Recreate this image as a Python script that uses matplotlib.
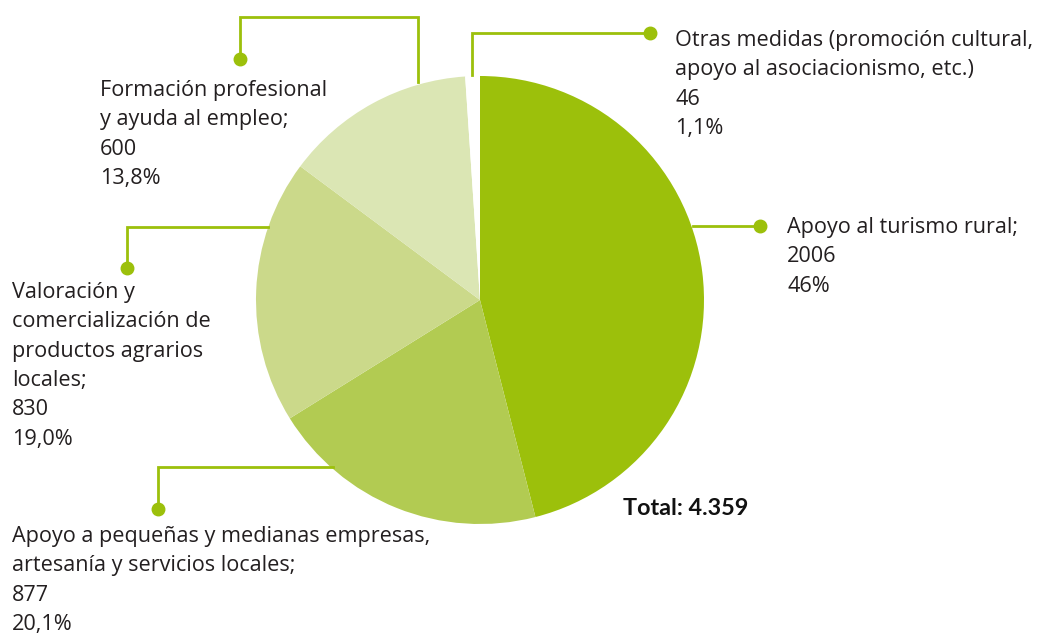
import matplotlib
matplotlib.use("Agg")
import matplotlib.pyplot as plt

# ---- data ----
categories = [
    "Apoyo al turismo rural;",
    "Apoyo a pequeñas y medianas empresas,\nartesanía y servicios locales;",
    "Valoración y\ncomercialización de\nproductos agrarios\nlocales;",
    "Formación profesional\ny ayuda al empleo;",
    "Otras medidas (promoción cultural,\napoyo al asociacionismo, etc.)",
]
values = [2006, 877, 830, 600, 46]
pct_labels = ["46%", "20,1%", "19,0%", "13,8%", "1,1%"]
total_label = "Total: 4.359"

colors = ["#9cc00b", "#b2cb52", "#cbd98a", "#dbe6b4", "#ffffff"]
leader = "#9cc00b"
txt_col = "#231f20"

W, H = 1041, 633
fig = plt.figure(figsize=(W / 100, H / 100), dpi=100)
ax = fig.add_axes([0, 0, 1, 1])

def Y(y):
    return H - y

cx, cy, r = 480, 300, 224
ax.pie(values, colors=colors, startangle=90, counterclock=False,
       center=(cx, Y(cy)), radius=r, frame=True,
       wedgeprops=dict(linewidth=0))
ax.set_xlim(0, W)
ax.set_ylim(0, H)
ax.set_aspect("equal")
ax.axis("off")

def path(pts):
    xs = [p[0] for p in pts]
    ys = [Y(p[1]) for p in pts]
    ax.plot(xs, ys, color=leader, lw=2, solid_joinstyle="miter", zorder=3)
    ax.plot(xs[-1], ys[-1], "o", color=leader, ms=9, zorder=4)

# leader lines (pie end -> dot)
path([(693, 226), (760, 226)])                       # turismo
path([(333, 467), (158, 467), (158, 509)])           # pequeñas
path([(268, 227), (127, 227), (127, 268)])           # valoración
path([(418, 82), (418, 17), (240, 17), (240, 59)])   # formación
path([(472, 75), (472, 33), (650, 33)])              # otras

FONT = "Open Sans"
FS = 15.6
STEP = 29.3

def label(x, y0, idx):
    lines = categories[idx].split("\n") + [str(values[idx]), pct_labels[idx]]
    for i, s in enumerate(lines):
        ax.text(x, Y(y0 + i * STEP), s, fontsize=FS, family=FONT,
                color=txt_col, ha="left", va="baseline")

label(787, 233, 0)
label(12, 542, 1)
label(12, 298, 2)
label(100, 96, 3)
label(675, 46, 4)

ax.text(623, Y(515), total_label, fontsize=16.8, family="Lato", weight="bold",
        color="#111111", ha="left", va="baseline")

fig.savefig("out.png", dpi=100)
